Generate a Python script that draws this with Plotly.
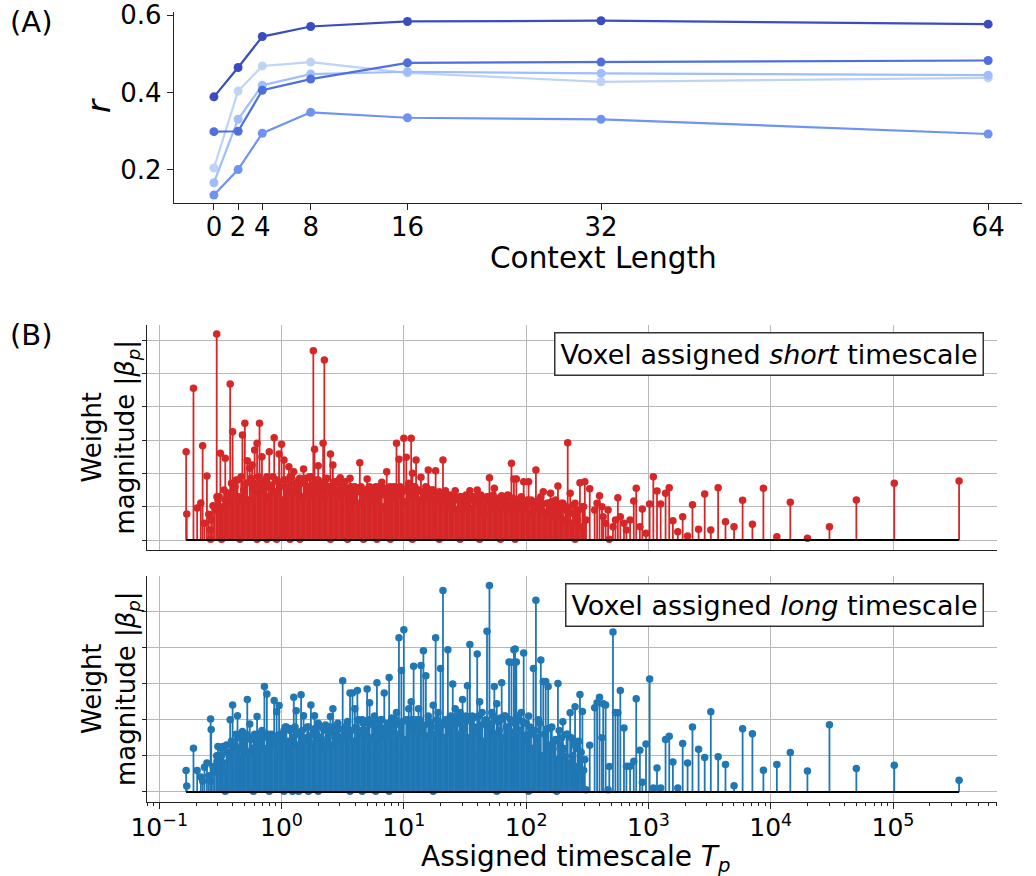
import plotly.graph_objects as go

# ---------------- Panel A data ----------------
context_length = [0, 2, 4, 8, 16, 32, 64]
r_series_1 = [0.389, 0.465, 0.545, 0.571, 0.584, 0.586, 0.577]
r_series_2 = [0.299, 0.300, 0.406, 0.435, 0.477, 0.479, 0.483]
r_series_3 = [0.135, 0.201, 0.295, 0.349, 0.335, 0.331, 0.293]
r_series_4 = [0.167, 0.331, 0.419, 0.448, 0.454, 0.450, 0.445]
r_series_5 = [0.205, 0.404, 0.469, 0.479, 0.451, 0.428, 0.438]
series_colors = ["#3b4cc0", "#4f6fdf", "#6f93f3", "#9fbefb", "#bed3f6"]

# ---------------- Panel B data ----------------
# assigned timescale, read as log10(T_p)  (visible / outlying voxels)
timescale_log10 = [
    -0.78, -0.775, -0.72, -0.69, -0.66, -0.645, -0.63, -0.61, -0.595, -0.58, -0.575, -0.56, -0.545, -0.53, -0.528,
    -0.52, -0.50, -0.48, -0.46, -0.44, -0.42, -0.40, -0.38, -0.36, -0.34, -0.32, -0.30, -0.28, -0.26, -0.24,
    -0.22, -0.20, -0.18, -0.16, -0.14, -0.12, -0.10, -0.08, -0.06, -0.04, -0.02, 0.00, 0.02, 0.04, 0.06,
    0.08, 0.10, 0.12, 0.14, 0.16, 0.18, 0.20, 0.22, 0.24, 0.26, 0.27, 0.28, 0.30, 0.32, 0.34,
    0.35, 0.36, 0.38, 0.40, 0.42, 0.44, 0.46, 0.48, 0.50, 0.52, 0.54, 0.56, 0.58, 0.60, 0.62,
    0.64, 0.66, 0.68, 0.70, 0.72, 0.74, 0.76, 0.78, 0.80, 0.82, 0.84, 0.86, 0.88, 0.90, 0.92,
    0.94, 0.96, 0.98, 1.00, 1.02, 1.04, 1.06, 1.07, 1.08, 1.10, 1.12, 1.14, 1.16, 1.18, 1.20,
    1.22, 1.24, 1.26, 1.28, 1.30, 1.32, 1.34, 1.36, 1.38, 1.40, 1.42, 1.44, 1.46, 1.48, 1.50,
    1.52, 1.54, 1.56, 1.58, 1.60, 1.62, 1.64, 1.66, 1.68, 1.70, 1.72, 1.74, 1.76, 1.78, 1.80,
    1.82, 1.84, 1.86, 1.88, 1.90, 1.91, 1.92, 1.94, 1.96, 1.98, 2.00, 2.02, 2.04, 2.06, 2.08,
    2.10, 2.12, 2.14, 2.16, 2.18, 2.20, 2.22, 2.24, 2.26, 2.28, 2.30, 2.32, 2.34, 2.36, 2.38,
    2.40, 2.42, 2.44, 2.46, 2.48, 2.49, 2.52, 2.56, 2.58, 2.60, 2.62, 2.63, 2.65, 2.67, 2.71,
    2.73, 2.75, 2.77, 2.80, 2.82, 2.85, 2.88, 2.90, 2.93, 2.95, 2.98, 3.01, 3.04, 3.07, 3.10,
    3.14, 3.17, 3.20, 3.24, 3.28, 3.32, 3.36, 3.41, 3.46, 3.51, 3.57, 3.63, 3.70, 3.77, 3.85,
    3.94, 4.05, 4.16, 4.30, 4.48, 4.70, 5.01, 5.54,
]
# weight magnitude |beta_p|, voxel assigned short timescale (arbitrary units)
weight_short = [
    2.65, 0.78, 4.55, 0.96, 1.11, 2.83, 0.50, 1.92, 0.77, 0.30, 0.60, 1.03, 0.90, 6.18, 1.30,
    1.20, 2.60, 1.00, 2.45, 1.40, 4.68, 3.25, 1.60, 1.80, 1.20, 3.15, 3.50, 2.38, 2.15, 2.25,
    2.70, 2.90, 3.50, 2.50, 1.70, 1.90, 2.65, 1.50, 3.07, 1.80, 2.58, 2.87, 2.40, 1.60, 2.20,
    1.90, 2.05, 1.40, 1.80, 1.70, 2.13, 1.85, 1.30, 1.90, 5.68, 2.72, 1.75, 2.23, 1.50, 2.90,
    5.40, 1.80, 1.60, 2.58, 2.25, 1.70, 1.30, 1.87, 1.55, 1.75, 1.40, 1.85, 1.20, 1.60, 1.45,
    2.32, 1.50, 1.30, 1.83, 1.60, 1.40, 1.55, 1.20, 1.60, 1.73, 1.35, 2.05, 1.58, 1.40, 1.60,
    2.90, 2.42, 1.50, 3.05, 2.48, 1.70, 3.05, 2.00, 1.60, 2.40, 1.50, 1.88, 1.40, 1.60, 2.10,
    1.30, 1.50, 2.08, 1.40, 1.20, 2.40, 1.48, 1.20, 1.35, 1.00, 1.48, 1.20, 1.30, 0.90, 1.30,
    1.10, 1.48, 1.20, 1.30, 1.50, 1.10, 1.25, 0.80, 1.30, 1.87, 1.20, 1.55, 1.10, 1.25, 1.33,
    1.00, 1.20, 0.90, 2.30, 1.83, 1.20, 1.83, 1.10, 1.30, 1.75, 1.00, 1.75, 1.20, 0.90, 2.10,
    1.10, 1.30, 1.45, 0.80, 1.10, 1.40, 0.90, 1.20, 1.62, 0.70, 1.10, 0.90, 2.92, 1.40, 0.80,
    1.10, 0.60, 1.72, 1.00, 1.75, 0.60, 1.54, 0.90, 1.10, 1.33, 1.00, 0.70, 0.50, 0.90, 0.40,
    0.60, 1.27, 0.70, 0.50, 0.30, 0.60, 1.17, 1.55, 0.40, 0.93, 0.20, 1.08, 1.90, 1.47, 1.08,
    1.40, 1.57, 0.58, 0.25, 0.70, 0.12, 1.06, 0.32, 1.38, 0.30, 1.57, 0.55, 0.40, 1.19, 0.47,
    1.55, 0.10, 1.13, 0.05, 0.40, 1.20, 1.70, 1.77,
]
# weight magnitude |beta_p|, voxel assigned long timescale (arbitrary units)
weight_long = [
    0.59, 0.16, 1.21, 0.59, 0.41, 0.30, 0.68, 0.80, 0.45, 2.02, 1.73, 0.70, 0.55, 1.00, 0.85,
    1.26, 0.90, 1.26, 0.60, 1.10, 2.00, 2.41, 1.30, 2.11, 0.90, 1.67, 1.50, 2.56, 1.88, 1.20,
    1.60, 2.09, 1.40, 1.70, 2.92, 2.71, 1.50, 1.60, 2.53, 2.22, 2.39, 1.40, 1.70, 1.80, 1.30,
    1.75, 2.62, 2.25, 1.60, 2.69, 2.11, 1.50, 1.80, 2.41, 1.60, 2.11, 1.70, 1.90, 1.40, 1.75,
    1.20, 1.85, 1.50, 2.09, 2.30, 1.60, 1.90, 1.50, 3.08, 1.80, 1.95, 2.74, 2.74, 2.30, 2.81,
    1.70, 2.00, 1.60, 2.85, 2.47, 1.90, 2.10, 3.02, 1.80, 2.00, 2.74, 1.70, 3.17, 2.05, 1.90,
    2.20, 4.27, 3.36, 4.49, 2.00, 2.30, 2.50, 1.80, 3.48, 2.00, 2.30, 3.50, 3.91, 3.22, 2.10,
    1.90, 2.40, 4.27, 2.20, 3.42, 5.58, 2.00, 3.94, 2.10, 2.99, 2.30, 1.90, 2.20, 2.56, 2.00,
    2.94, 4.08, 2.10, 1.80, 3.82, 2.50, 2.20, 1.90, 4.45, 5.72, 2.20, 2.92, 2.44, 1.70, 3.02,
    2.10, 1.80, 3.60, 3.59, 3.94, 3.96, 3.60, 2.00, 2.20, 3.85, 1.90, 2.10, 1.60, 3.42, 5.31,
    2.00, 3.65, 3.06, 3.06, 2.92, 1.77, 1.20, 1.45, 3.00, 1.30, 1.94, 0.99, 1.60, 2.19, 1.00,
    2.36, 1.20, 2.70, 2.23, 0.90, 0.06, 1.29, 2.33, 2.47, 2.62, 1.50, 2.44, 2.41, 0.06, 4.43,
    2.20, 2.19, 2.81, 1.77, 0.71, 0.71, 0.85, 2.58, 1.15, 0.27, 1.33, 3.13, 0.11, 0.66, 0.11,
    1.45, 1.54, 0.83, 0.11, 1.34, 0.80, 1.80, 1.18, 0.95, 2.22, 0.97, 0.76, 0.17, 1.75, 1.61,
    0.60, 0.76, 1.09, 0.58, 1.86, 0.65, 0.74, 0.32,
]

# voxels inside the dense block (log10 T_p) and their weights
timescale_log10_dense = [
    -0.51, -0.49, -0.47, -0.45, -0.43, -0.41, -0.39, -0.37, -0.35, -0.33, -0.31, -0.29, -0.27, -0.25, -0.23,
    -0.21, -0.19, -0.17, -0.15, -0.13, -0.11, -0.09, -0.07, -0.05, -0.03, -0.01, 0.01, 0.03, 0.05, 0.07,
    0.09, 0.11, 0.13, 0.15, 0.17, 0.19, 0.21, 0.23, 0.25, 0.27, 0.29, 0.31, 0.33, 0.35, 0.37,
    0.39, 0.41, 0.43, 0.45, 0.47, 0.49, 0.51, 0.53, 0.55, 0.57, 0.59, 0.61, 0.63, 0.65, 0.67,
    0.69, 0.71, 0.73, 0.75, 0.77, 0.79, 0.81, 0.83, 0.85, 0.87, 0.89, 0.91, 0.93, 0.95, 0.97,
    0.99, 1.01, 1.03, 1.05, 1.07, 1.09, 1.11, 1.13, 1.15, 1.17, 1.19, 1.21, 1.23, 1.25, 1.27,
    1.29, 1.31, 1.33, 1.35, 1.37, 1.39, 1.41, 1.43, 1.45, 1.47, 1.49, 1.51, 1.53, 1.55, 1.57,
    1.59, 1.61, 1.63, 1.65, 1.67, 1.69, 1.71, 1.73, 1.75, 1.77, 1.79, 1.81, 1.83, 1.85, 1.87,
    1.89, 1.91, 1.93, 1.95, 1.97, 1.99, 2.01, 2.03, 2.05, 2.07, 2.09, 2.11, 2.13, 2.15, 2.17,
    2.19, 2.21, 2.23, 2.25, 2.27, 2.29, 2.31, 2.33, 2.35, 2.37, 2.39, 2.41, 2.43, 2.45, 2.47,
]
weight_short_dense = [
    1.30, 0.90, 1.50, 1.10, 1.40, 1.70,
    1.60, 1.80, 1.30, 1.90, 1.50, 1.70, 1.20, 1.85, 1.60, 1.40, 1.90, 1.70, 1.50, 1.80, 1.30,
    1.65, 1.90, 1.45, 1.75, 1.60, 1.20, 1.80, 1.55, 1.90, 1.40, 1.70, 1.60, 1.85, 1.30, 1.75,
    1.50, 1.90, 1.65, 1.40, 1.80, 1.55, 1.70, 1.25, 1.85, 1.60, 1.45, 1.75, 1.50, 1.80, 1.60,
    1.40, 1.55, 1.20, 1.60, 1.35, 1.50, 1.10, 1.60, 1.45, 1.30, 1.55, 1.20, 1.50, 1.60, 1.35,
    1.45, 1.00, 1.55, 1.40, 1.60, 1.25, 1.50, 1.35, 1.60, 1.45, 1.15, 1.55, 1.40, 1.30, 1.60,
    1.50, 1.20, 1.45, 1.35, 1.55, 1.25, 1.50, 1.40, 1.30, 1.45,
    1.20, 1.35, 1.00, 1.30, 1.15, 1.35, 0.90, 1.25, 1.30, 1.10, 1.35, 1.20, 0.95, 1.30, 1.25,
    1.10, 1.35, 1.00, 1.20, 1.30, 1.15, 1.35, 0.90, 1.25, 1.10, 1.30, 1.20, 1.35, 1.05, 1.25,
    1.10, 1.20, 0.90, 1.15, 1.00, 1.20, 0.80, 1.10, 1.15, 0.95, 1.20, 1.05, 0.85, 1.10, 1.00,
    1.15, 0.70, 1.05, 0.90, 1.10, 0.60, 1.00, 0.95, 0.50, 1.05, 0.80, 0.90, 0.40, 1.00,
]
weight_long_dense = [
    1.00, 1.20, 0.80, 1.30, 1.10, 1.40,
    1.40, 1.60, 1.20, 1.50, 1.30, 1.60, 1.10, 1.45, 1.55, 1.25, 1.60, 1.35, 1.50, 1.20, 1.60,
    1.40, 1.30, 1.55, 1.45, 1.60,
    1.60, 1.80, 1.40, 1.75, 1.50, 1.80, 1.30, 1.65, 1.70, 1.45, 1.80, 1.55, 1.35, 1.75, 1.60,
    1.50, 1.80, 1.40, 1.70, 1.65, 1.30, 1.80, 1.55, 1.75, 1.45, 1.60, 1.80, 1.50, 1.70, 1.40,
    1.80, 2.00, 1.60, 1.90, 1.70, 2.00, 1.50, 1.85, 1.95, 1.65, 2.00, 1.75, 1.55, 1.90, 1.80,
    1.70, 2.00, 1.60, 1.85, 1.95, 1.45, 2.00, 1.75, 1.90, 1.65, 1.80, 2.00, 1.70, 1.85, 1.55,
    1.95, 1.80, 1.60, 2.00, 1.75, 1.90, 1.50, 1.85, 1.70, 2.00,
    1.90, 2.10, 1.60, 2.00, 1.80, 2.10, 1.50, 1.95, 2.05, 1.70, 2.10, 1.85, 1.40, 2.00, 1.90,
    1.75, 2.10, 1.60, 1.95, 2.05, 1.50, 2.10, 1.80, 2.00, 1.65, 1.90, 2.10, 1.70, 1.95, 1.55,
    1.60, 1.80, 1.20, 1.70, 1.50, 1.90, 1.00, 1.60, 1.75, 1.30, 1.80, 1.40, 0.90, 1.70, 1.50,
    1.20, 1.60, 0.80, 1.50, 1.30, 0.70, 1.40, 1.10, 0.60,
]

# voxels whose weight is ~0 in one of the two panels (dots sitting on the baseline)
timescale_log10_low = [
    -0.58, -0.49, -0.34, -0.20, -0.12, -0.04, 0.07, 0.15, 0.40, 0.54, 0.67, 0.78, 0.89, 1.07,
    1.29, 1.46, 1.62, 1.79, 1.91, 2.40, 2.68,
    -0.46, -0.23, -0.10, 0.02, 0.09, 0.14, 0.22, 0.30, 0.56, 0.66, 0.77, 0.88, 1.24, 1.76,
    2.02, 2.25,
]
weight_short_low = [
    0.02, 0.02, 0.02, 0.02, 0.02, 0.02, 0.02, 0.02, 0.02, 0.02, 0.02, 0.02, 0.02, 0.02,
    0.02, 0.02, 0.02, 0.02, 0.02, 0.02, 0.02,
    1.20, 1.70, 1.60, 1.80, 1.50, 1.70, 1.60, 1.80, 1.50, 1.40, 1.55, 1.45, 1.40, 1.20,
    1.10, 0.90,
]
weight_long_low = [
    0.30, 1.00, 1.50, 1.40, 1.60, 1.50, 1.70, 1.60, 1.80, 1.70, 1.90, 1.80, 1.90, 2.00,
    1.90, 2.00, 1.80, 2.00, 1.90, 1.40, 0.70,
    0.02, 0.02, 0.02, 0.02, 0.02, 0.02, 0.02, 0.02, 0.02, 0.02, 0.02, 0.02, 0.02, 0.02,
    0.02, 0.02,
]

decade_ticks = [-1, 0, 1, 2, 3, 4, 5]
decade_labels = ["10<sup>\u22121</sup>", "10<sup>0</sup>", "10<sup>1</sup>", "10<sup>2</sup>",
                 "10<sup>3</sup>", "10<sup>4</sup>", "10<sup>5</sup>"]

FONT = "DejaVu Sans"
W, H = 1036, 876


def px(x):
    return x / W


def py(y):
    return 1 - y / H


fig = go.Figure()

# ---- Panel A lines (lightest drawn first)
all_series = [r_series_1, r_series_2, r_series_3, r_series_4, r_series_5]
for idx in [4, 3, 2, 1, 0]:
    fig.add_trace(go.Scatter(
        x=context_length, y=all_series[idx], mode="lines+markers",
        line=dict(color=series_colors[idx], width=2.2),
        marker=dict(color=series_colors[idx], size=9),
        xaxis="x", yaxis="y", showlegend=False, hoverinfo="skip"))

# ---- Panel B stems
L_all = timescale_log10 + timescale_log10_dense + timescale_log10_low
T = [10 ** v for v in L_all]


def add_stems(weights, color, xa, ya):
    sx, sy = [], []
    for t, w in zip(T, weights):
        sx += [t, t, None]
        sy += [0, w, None]
    fig.add_trace(go.Scatter(x=sx, y=sy, mode="lines", line=dict(color=color, width=1.8),
                             xaxis=xa, yaxis=ya, showlegend=False, hoverinfo="skip"))
    fig.add_trace(go.Scatter(x=T, y=weights, mode="markers",
                             marker=dict(color=color, size=7.5, line=dict(width=0)),
                             xaxis=xa, yaxis=ya, showlegend=False, hoverinfo="skip"))
    fig.add_trace(go.Scatter(x=[min(T), max(T)], y=[0, 0], mode="lines",
                             line=dict(color="black", width=2),
                             xaxis=xa, yaxis=ya, showlegend=False, hoverinfo="skip"))


add_stems(weight_short + weight_short_dense + weight_short_low, "#d62728", "x2", "y2")
add_stems(weight_long + weight_long_dense + weight_long_low, "#1f77b4", "x3", "y3")

AX = "#222222"
GRID = "#b8b8b8"
xdom_b = [px(147), px(997)]

fig.update_layout(
    width=W, height=H, margin=dict(l=0, r=0, t=0, b=0, autoexpand=False),
    paper_bgcolor="white", plot_bgcolor="white",
    font=dict(family=FONT, color="black"),
    xaxis=dict(domain=[px(174), px(1022)], range=[-3.3, 66.8], anchor="y", automargin=False,
               tickvals=context_length, ticks="outside", ticklen=6, tickcolor=AX,
               ticklabelstandoff=-5,
               showline=True, linecolor=AX, linewidth=1.3, showgrid=False, zeroline=False,
               tickfont=dict(size=26, family=FONT)),
    yaxis=dict(domain=[py(203), py(12)], range=[0.1145, 0.6085], anchor="x", automargin=False,
               tickvals=[0.2, 0.4, 0.6], ticktext=["0.2", "0.4", "0.6"],
               ticks="outside", ticklen=6, tickcolor=AX,
               showline=True, linecolor=AX, linewidth=1.3, showgrid=False, zeroline=False,
               tickfont=dict(size=26, family=FONT)),
    xaxis2=dict(domain=xdom_b, type="log", range=[-1.10, 5.85], anchor="y2", automargin=False,
                tickvals=[10 ** d for d in decade_ticks], showticklabels=False, ticks="",
                showline=True, linecolor=AX, linewidth=1.3, showgrid=True, gridcolor=GRID,
                gridwidth=1, zeroline=False),
    yaxis2=dict(domain=[py(550), py(325)], range=[-0.3, 6.45], anchor="x2", automargin=False,
                tickvals=[0, 1, 2, 3, 4, 5, 6], showticklabels=False, ticks="outside",
                ticklen=4, tickcolor=AX,
                showline=True, linecolor=AX, linewidth=1.3, showgrid=True, gridcolor=GRID,
                gridwidth=1, zeroline=False),
    xaxis3=dict(domain=xdom_b, type="log", range=[-1.10, 5.85], anchor="y3", automargin=False,
                tickvals=[10 ** d for d in decade_ticks], ticktext=decade_labels,
                ticks="outside", ticklen=6, tickcolor=AX, ticklabelstandoff=-3,
                minor=dict(ticks="outside", ticklen=3, tickcolor=AX, dtick="D1", showgrid=False),
                showline=True, linecolor=AX, linewidth=1.3, showgrid=True, gridcolor=GRID,
                gridwidth=1, zeroline=False, tickfont=dict(size=25, family=FONT)),
    yaxis3=dict(domain=[py(802), py(576)], range=[-0.28, 5.98], anchor="x3", automargin=False,
                tickvals=[0, 1, 2, 3, 4, 5], showticklabels=False, ticks="outside",
                ticklen=4, tickcolor=AX,
                showline=True, linecolor=AX, linewidth=1.3, showgrid=True, gridcolor=GRID,
                gridwidth=1, zeroline=False),
)

ann = []
ann.append(dict(text="(A)", x=px(8), y=py(22), xanchor="left", yanchor="middle",
                font=dict(size=29)))
ann.append(dict(text="(B)", x=px(8), y=py(335), xanchor="left", yanchor="middle",
                font=dict(size=29)))
ann.append(dict(text="<i>r</i>", x=px(99), y=py(106), xanchor="center", yanchor="middle",
                textangle=-90, font=dict(size=32)))
ann.append(dict(text="Context Length", x=px(603), y=py(258), xanchor="center",
                yanchor="middle", font=dict(size=29.5)))
ylab = "Weight<br>magnitude |<i>\u03b2</i><sub><i>p</i></sub>|"
ann.append(dict(text=ylab, x=px(110), y=py(437.5), xanchor="center", yanchor="middle",
                textangle=-90, font=dict(size=26)))
ann.append(dict(text=ylab, x=px(110), y=py(689), xanchor="center", yanchor="middle",
                textangle=-90, font=dict(size=26)))
ann.append(dict(text="Assigned timescale <i>T</i><sub><i>p</i></sub>", x=px(575), y=py(858),
                xanchor="center", yanchor="middle", font=dict(size=28)))
ann.append(dict(text="Voxel assigned <i>short</i> timescale", x=px(984), y=py(331.7),
                xanchor="right", yanchor="top", font=dict(size=27), bgcolor="white",
                bordercolor="#333333", borderwidth=1.5, borderpad=5))
ann.append(dict(text="Voxel assigned <i>long</i> timescale", x=px(984), y=py(583.3),
                xanchor="right", yanchor="top", font=dict(size=27), bgcolor="white",
                bordercolor="#333333", borderwidth=1.5, borderpad=5))
for a in ann:
    a.update(xref="paper", yref="paper", showarrow=False)
    a["font"].update(family=FONT, color="black")
fig.update_layout(annotations=ann)

fig.write_html("out.html", config={"displayModeBar": False},
               post_script="document.body.style.margin='0px';")
